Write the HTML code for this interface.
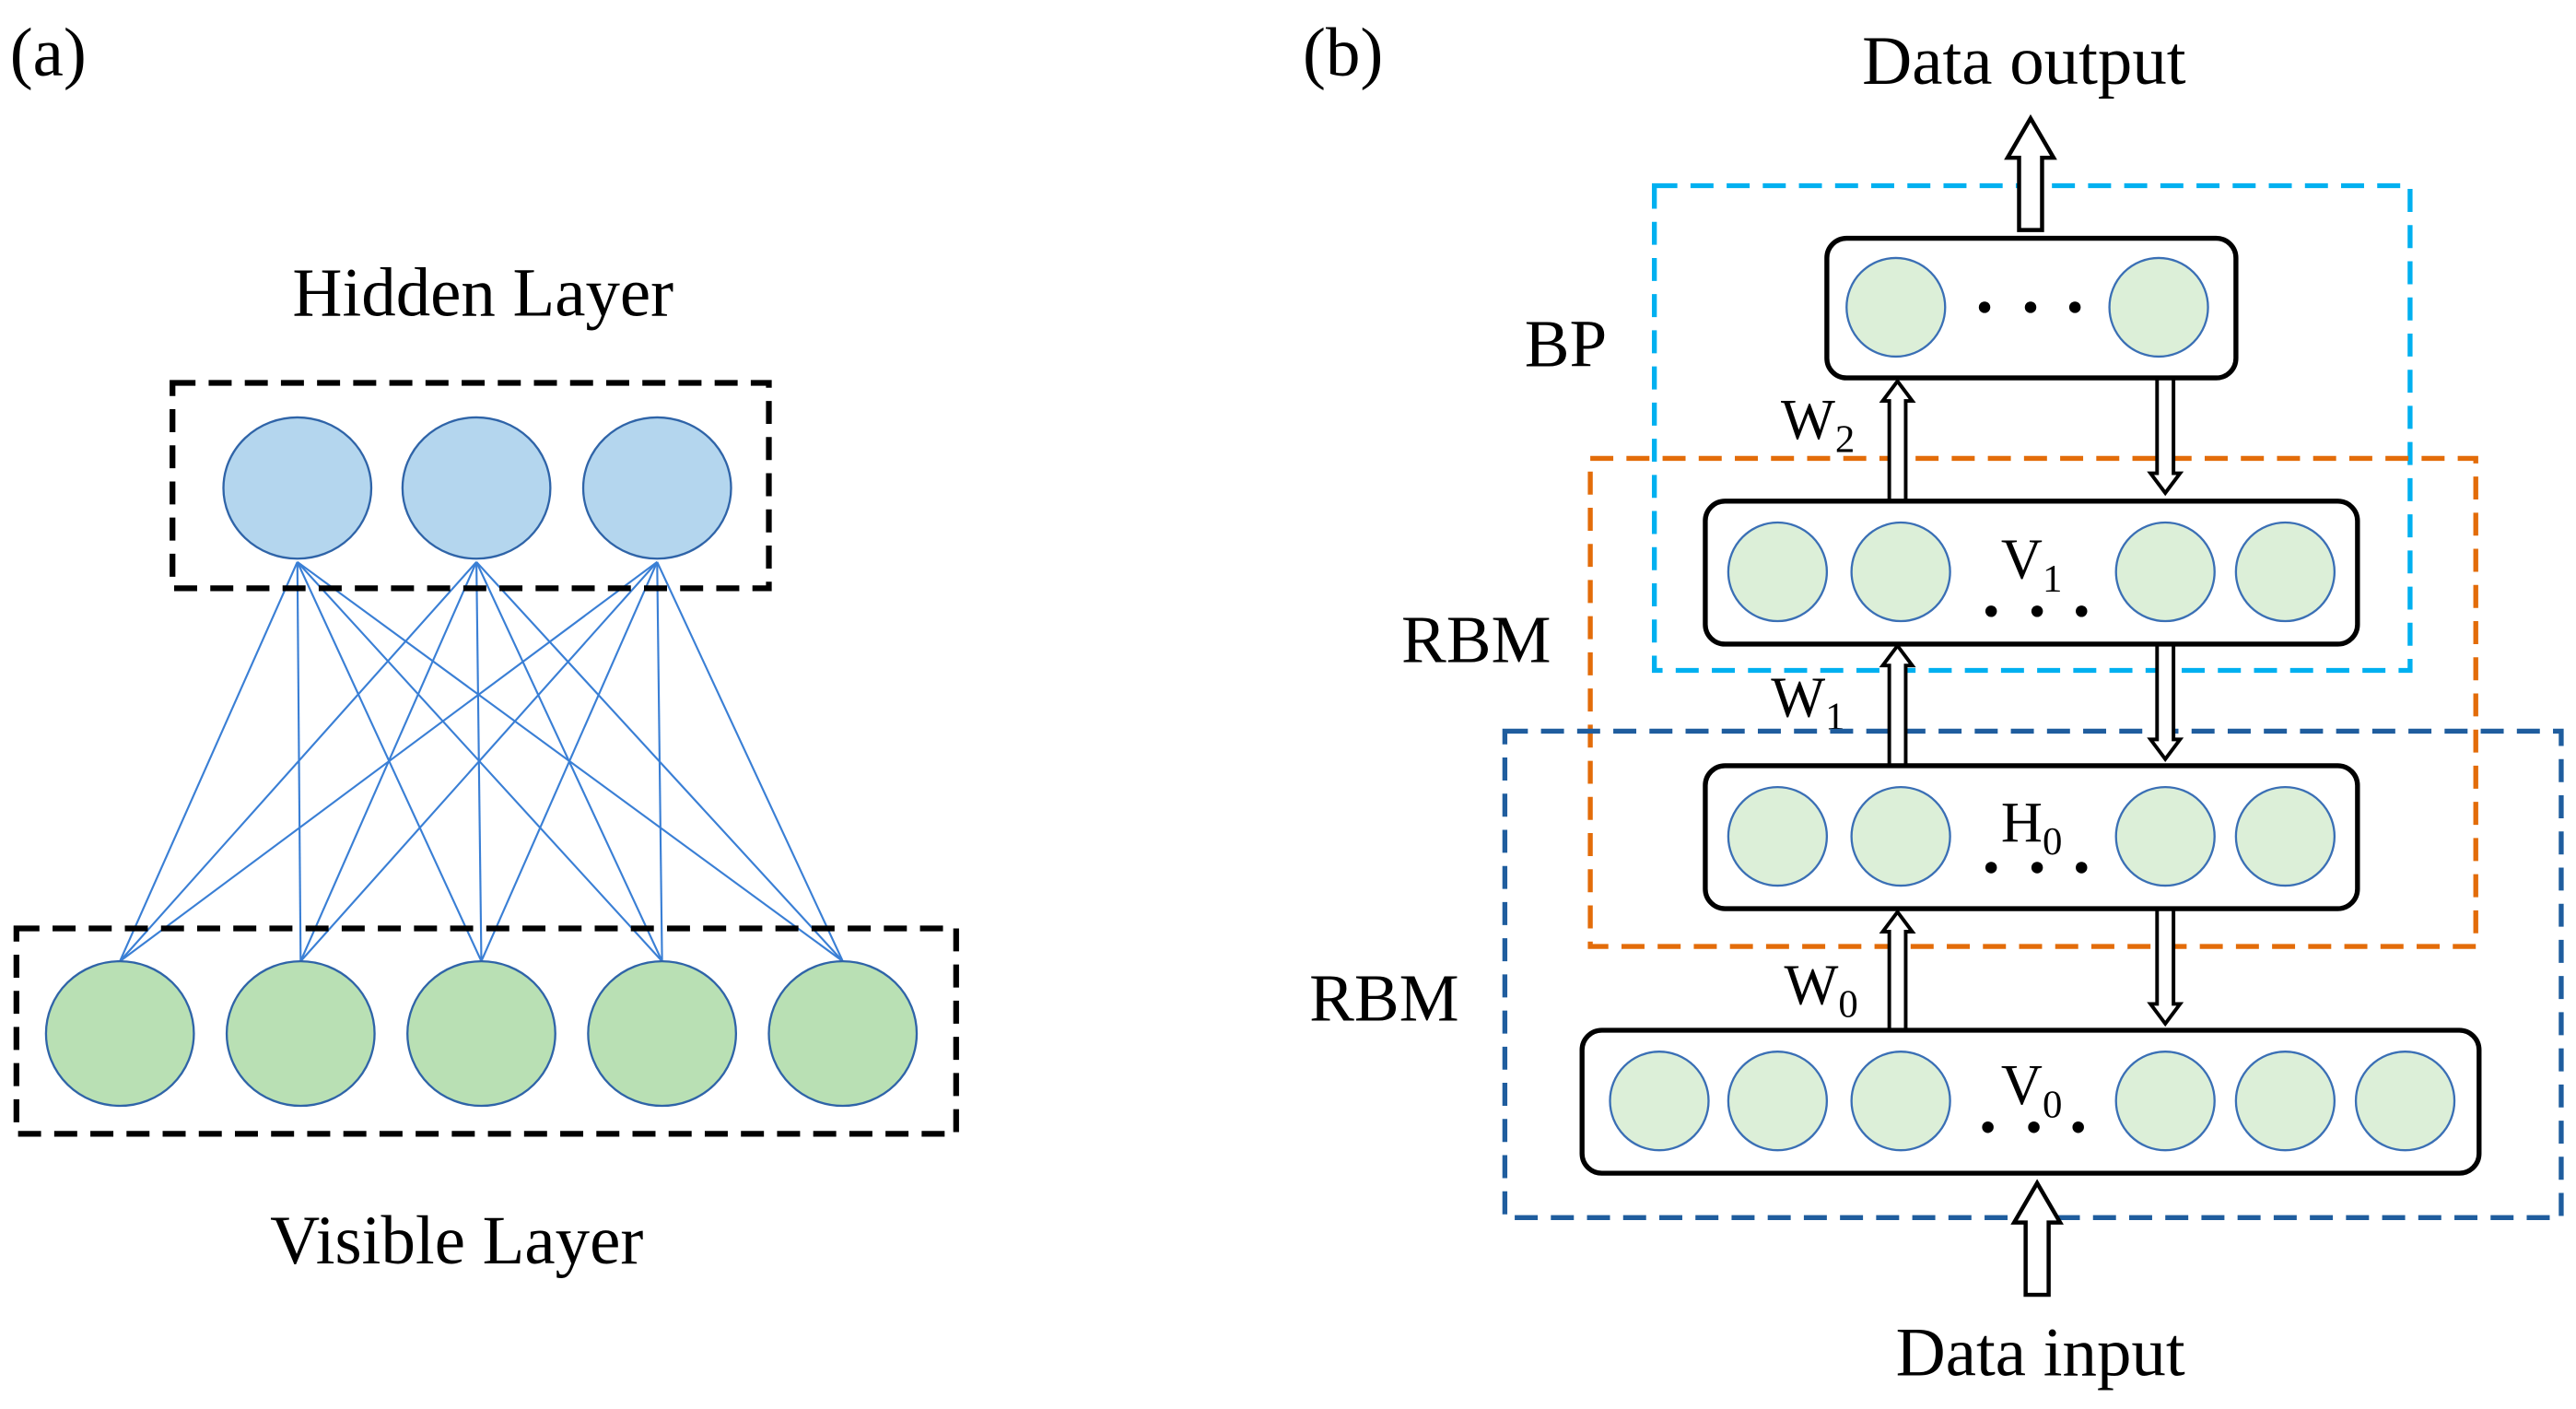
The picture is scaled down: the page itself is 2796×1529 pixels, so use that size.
<!DOCTYPE html>
<html><head><meta charset="utf-8"><style>html,body{margin:0;padding:0;background:#fff}svg{display:block}svg text{font-family:"Liberation Serif","Times New Roman",serif}</style></head>
<body>
<svg width="2796" height="1529" viewBox="0 0 1568 857.5" preserveAspectRatio="none" xmlns="http://www.w3.org/2000/svg">
<rect width="1568" height="857.5" fill="#fff"/>
<text x="6" y="46" font-size="42">(a)</text>
<text x="294" y="192" font-size="42" text-anchor="middle">Hidden Layer</text>
<text x="278" y="769" font-size="42" text-anchor="middle">Visible Layer</text>
<g stroke="#3a7fd5" stroke-width="1.2">
<line x1="181" y1="342" x2="73" y2="585"/><line x1="181" y1="342" x2="183" y2="585"/><line x1="181" y1="342" x2="293" y2="585"/><line x1="181" y1="342" x2="403" y2="585"/><line x1="181" y1="342" x2="513" y2="585"/>
<line x1="290" y1="342" x2="73" y2="585"/><line x1="290" y1="342" x2="183" y2="585"/><line x1="290" y1="342" x2="293" y2="585"/><line x1="290" y1="342" x2="403" y2="585"/><line x1="290" y1="342" x2="513" y2="585"/>
<line x1="400" y1="342" x2="73" y2="585"/><line x1="400" y1="342" x2="183" y2="585"/><line x1="400" y1="342" x2="293" y2="585"/><line x1="400" y1="342" x2="403" y2="585"/><line x1="400" y1="342" x2="513" y2="585"/>
</g>
<g fill="none" stroke="#000" stroke-width="3.5" stroke-dasharray="14,8">
<rect x="105" y="233" width="363" height="125"/>
<rect x="10" y="565" width="572" height="125"/>
</g>
<g fill="#b4d6ee" stroke="#2f64a8" stroke-width="1.3">
<ellipse cx="181" cy="297" rx="45" ry="43"/><ellipse cx="290" cy="297" rx="45" ry="43"/><ellipse cx="400" cy="297" rx="45" ry="43"/>
</g>
<g fill="#b9e0b4" stroke="#2f64a8" stroke-width="1.3">
<ellipse cx="73" cy="629" rx="45" ry="44"/><ellipse cx="183" cy="629" rx="45" ry="44"/><ellipse cx="293" cy="629" rx="45" ry="44"/><ellipse cx="403" cy="629" rx="45" ry="44"/><ellipse cx="513" cy="629" rx="45" ry="44"/>
</g>
<text x="793" y="46" font-size="42">(b)</text>
<text x="1232" y="51" font-size="42" text-anchor="middle">Data output</text>
<text x="1242" y="837" font-size="42" text-anchor="middle">Data input</text>
<text x="928" y="223" font-size="41">BP</text>
<text x="853" y="403" font-size="41">RBM</text>
<text x="797" y="621" font-size="41">RBM</text>
<text x="1084" y="267" font-size="35">W<tspan font-size="24" dy="8">2</tspan></text>
<text x="1078" y="436" font-size="35">W<tspan font-size="24" dy="8">1</tspan></text>
<text x="1086" y="611" font-size="35">W<tspan font-size="24" dy="8">0</tspan></text>
<g fill="none" stroke-width="3" stroke-dasharray="14,8">
<rect x="1007" y="113" width="460" height="295" stroke="#00b0f0"/>
<rect x="968" y="279" width="539" height="297" stroke="#e36c09"/>
<rect x="916" y="445" width="643" height="296" stroke="#1f5d9e"/>
</g>
<g fill="#fff" stroke="#000" stroke-width="2.5">
<polygon points="1229,140 1229,96 1222,96 1236,72 1250,96 1243,96 1243,140"/>
<polygon points="1233,788 1233,744 1226,744 1240,720 1254,744 1247,744 1247,788"/>
</g>
<g fill="#fff" stroke="#000" stroke-width="2.2">
<polygon points="1150,305 1150,244 1146,244 1155,232 1164,244 1160,244 1160,305"/>
<polygon points="1150,466 1150,405 1146,405 1155,393 1164,405 1160,405 1160,466"/>
<polygon points="1150,627 1150,567 1146,567 1155,555 1164,567 1160,567 1160,627"/>
<polygon points="1313,230 1313,288 1309,288 1318,300 1327,288 1323,288 1323,230"/>
<polygon points="1313,392 1313,450 1309,450 1318,462 1327,450 1323,450 1323,392"/>
<polygon points="1313,553 1313,611 1309,611 1318,623 1327,611 1323,611 1323,553"/>
</g>
<g fill="#fff" stroke="#000" stroke-width="3">
<rect x="1112" y="145" width="249" height="85" rx="12"/>
<rect x="1038" y="305" width="397" height="87" rx="12"/>
<rect x="1038" y="466" width="397" height="87" rx="12"/>
<rect x="963" y="627" width="546" height="87" rx="12"/>
</g>
<g fill="#dcefd8" stroke="#3a6fb5" stroke-width="1.3">
<ellipse cx="1154" cy="187" rx="30" ry="30"/><ellipse cx="1314" cy="187" rx="30" ry="30"/>
<ellipse cx="1082" cy="348" rx="30" ry="30"/><ellipse cx="1157" cy="348" rx="30" ry="30"/><ellipse cx="1318" cy="348" rx="30" ry="30"/><ellipse cx="1391" cy="348" rx="30" ry="30"/>
<ellipse cx="1082" cy="509" rx="30" ry="30"/><ellipse cx="1157" cy="509" rx="30" ry="30"/><ellipse cx="1318" cy="509" rx="30" ry="30"/><ellipse cx="1391" cy="509" rx="30" ry="30"/>
<ellipse cx="1010" cy="670" rx="30" ry="30"/><ellipse cx="1082" cy="670" rx="30" ry="30"/><ellipse cx="1157" cy="670" rx="30" ry="30"/><ellipse cx="1318" cy="670" rx="30" ry="30"/><ellipse cx="1391" cy="670" rx="30" ry="30"/><ellipse cx="1464" cy="670" rx="30" ry="30"/>
</g>
<g fill="#000">
<circle cx="1208" cy="187" r="3.5"/><circle cx="1236" cy="187" r="3.5"/><circle cx="1263" cy="187" r="3.5"/>
<circle cx="1212" cy="372" r="3.5"/><circle cx="1240" cy="372" r="3.5"/><circle cx="1267" cy="372" r="3.5"/>
<circle cx="1212" cy="528" r="3.5"/><circle cx="1240" cy="528" r="3.5"/><circle cx="1267" cy="528" r="3.5"/>
<circle cx="1210" cy="686" r="3.5"/><circle cx="1238" cy="686" r="3.5"/><circle cx="1265" cy="686" r="3.5"/>
</g>
<text x="1218" y="352" font-size="35">V<tspan font-size="24" dy="8">1</tspan></text>
<text x="1218" y="512" font-size="35">H<tspan font-size="24" dy="8">0</tspan></text>
<text x="1218" y="672" font-size="35">V<tspan font-size="24" dy="8">0</tspan></text>
</svg>
</body></html>
